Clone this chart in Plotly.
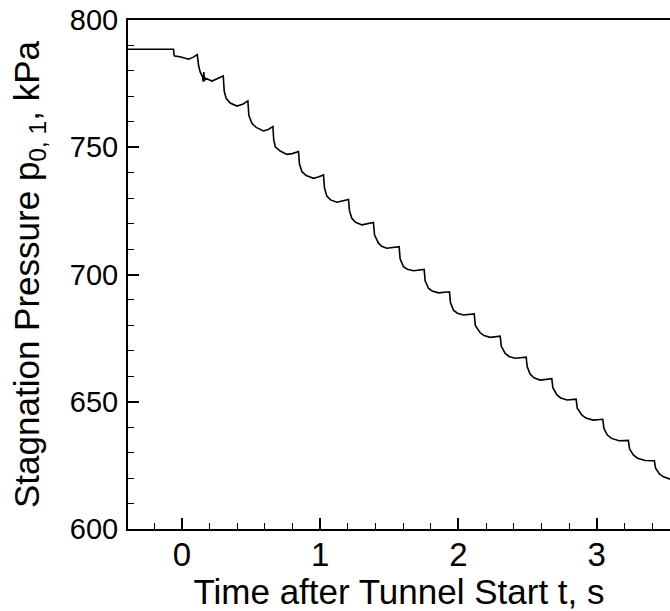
import plotly.graph_objects as go

# Time after tunnel start (s) and stagnation pressure (kPa)
time_s = [
    -0.40, -0.061, -0.056, 0.000, 0.048, 0.080, 0.111,
    0.121, 0.132, 0.150, 0.154, 0.158, 0.163, 0.168, 0.217, 0.260, 0.299,
    0.306, 0.320, 0.349, 0.398, 0.443, 0.477,
    0.484, 0.506, 0.537, 0.590, 0.624, 0.658,
    0.664, 0.675, 0.711, 0.759, 0.798, 0.843,
    0.850, 0.868, 0.899, 0.952, 0.986, 1.024,
    1.031, 1.048, 1.075, 1.121, 1.205,
    1.212, 1.229, 1.256, 1.302, 1.385,
    1.393, 1.422, 1.445, 1.482, 1.571,
    1.578, 1.602, 1.630, 1.675, 1.752,
    1.759, 1.783, 1.810, 1.855, 1.935,
    1.942, 1.964, 1.992, 2.036, 2.114,
    2.122, 2.157, 2.185, 2.229, 2.302,
    2.310, 2.338, 2.366, 2.410, 2.490,
    2.497, 2.518, 2.546, 2.591, 2.675,
    2.683, 2.712, 2.740, 2.786, 2.851,
    2.859, 2.892, 2.922, 2.974, 3.044,
    3.052, 3.077, 3.107, 3.162, 3.229,
    3.237, 3.265, 3.295, 3.350, 3.417,
    3.425, 3.453, 3.483, 3.531,
]
pressure_kpa = [
    788.5, 788.5, 785.9, 785.4, 784.6, 785.3, 786.4,
    781.9, 779.6, 777.5, 775.8, 779.5, 776.0, 777.2, 776.0, 777.0, 778.0,
    772.0, 769.2, 767.4, 766.2, 767.0, 768.2,
    762.5, 759.4, 757.8, 756.4, 757.0, 758.1,
    753.0, 750.2, 748.5, 747.2, 747.5, 748.3,
    743.5, 740.4, 738.9, 737.8, 738.3, 739.1,
    734.0, 730.8, 729.3, 728.4, 729.5,
    725.0, 722.1, 720.5, 719.5, 720.4,
    715.5, 712.3, 711.1, 710.3, 710.9,
    706.2, 703.1, 702.1, 701.5, 702.0,
    697.5, 694.6, 693.5, 692.8, 693.2,
    689.0, 686.0, 684.8, 684.1, 684.5,
    680.0, 677.1, 676.0, 675.3, 675.8,
    671.8, 669.0, 667.8, 667.1, 667.5,
    663.8, 660.9, 659.4, 658.5, 659.1,
    655.5, 652.7, 651.5, 650.7, 651.0,
    647.5, 644.8, 643.6, 642.8, 643.1,
    639.5, 636.9, 635.6, 634.7, 634.8,
    631.5, 629.1, 627.8, 626.9, 626.8,
    624.0, 621.6, 620.5, 619.6,
]

x_tick_values = [0, 1, 2, 3]
y_tick_values = [600, 650, 700, 750, 800]

FONT = "Liberation Sans, Arial, Helvetica, sans-serif"

fig = go.Figure()
fig.add_trace(go.Scatter(
    x=time_s, y=pressure_kpa, mode="lines",
    line=dict(color="black", width=1.6),
    showlegend=False, hoverinfo="skip",
))

fig.update_layout(
    width=670, height=611,
    margin=dict(l=128, r=0, t=20, b=82),
    paper_bgcolor="white", plot_bgcolor="white",
    font=dict(family=FONT, color="black"),
)
fig.update_xaxes(
    range=[-0.39, 3.53], automargin=False,
    tickvals=x_tick_values,
    ticks="inside", ticklen=11, tickwidth=1.5, tickcolor="black",
    minor=dict(ticks="inside", ticklen=6, tickwidth=1, tickcolor="black", dtick=0.2, tick0=0, showgrid=False),
    showline=True, linecolor="black", linewidth=2, mirror=True,
    showgrid=False, zeroline=False,
    tickfont=dict(size=33, family=FONT), ticklabelstandoff=-5,
    title=dict(text="Time after Tunnel Start t, s", font=dict(size=35, family=FONT), standoff=2),
)
fig.update_yaxes(
    range=[600, 800], automargin=False,
    tickvals=y_tick_values,
    ticks="inside", ticklen=11, tickwidth=1.5, tickcolor="black",
    minor=dict(ticks="inside", ticklen=6, tickwidth=1, tickcolor="black", dtick=10, tick0=600, showgrid=False),
    showline=True, linecolor="black", linewidth=2, mirror=False,
    showgrid=False, zeroline=False,
    tickfont=dict(size=29, family=FONT), ticklabelstandoff=2,
    title=dict(text="Stagnation Pressure p<sub>0, 1</sub>, kPa", font=dict(size=35, family=FONT), standoff=20),
)

fig.write_html(
    "out.html",
    config={"displayModeBar": False},
    post_script="document.body.style.margin='0';document.body.style.overflow='hidden';",
)
